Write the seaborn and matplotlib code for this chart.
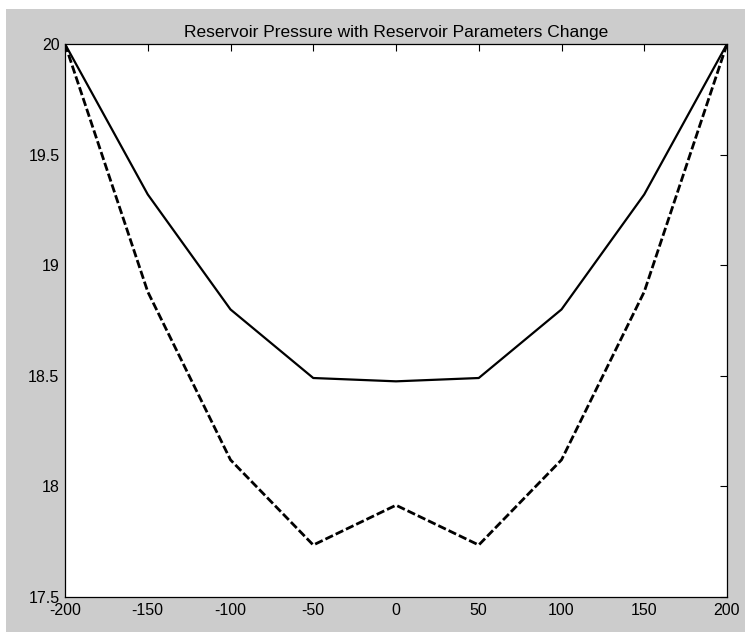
import matplotlib
matplotlib.use("Agg")
import matplotlib.pyplot as plt
from matplotlib.patches import Rectangle
import pandas as pd
import seaborn as sns

# Well offset (m) and reservoir pressure (MPa) for the two parameter cases
offset = [-200, -150, -100, -50, 0, 50, 100, 150, 200]
pressure_base = [20.0, 19.32, 18.80, 18.49, 18.475, 18.49, 18.80, 19.32, 20.0]
pressure_changed = [20.0, 18.88, 18.12, 17.735, 17.915, 17.735, 18.12, 18.88, 20.0]
case_names = ["base", "changed"]

x_ticks = [-200, -150, -100, -50, 0, 50, 100, 150, 200]
y_ticks = [17.5, 18, 18.5, 19, 19.5, 20]
title_text = "Reservoir Pressure with Reservoir Parameters Change"

df = pd.concat([
    pd.DataFrame({"offset": offset, "pressure": pressure_base, "case": case_names[0]}),
    pd.DataFrame({"offset": offset, "pressure": pressure_changed, "case": case_names[1]}),
])

sns.set_theme(style="white")
plt.rcParams["font.family"] = ["Liberation Sans", "DejaVu Sans"]

fig = plt.figure(figsize=(7.45, 6.32), dpi=100, facecolor="white")
# grey window background
fig.patches.append(Rectangle((6 / 745, 0), 1, (632 - 9) / 632,
                             transform=fig.transFigure, facecolor="#cccccc",
                             edgecolor="none", zorder=-10))
ax = fig.add_axes([65 / 745, (632 - 597) / 632, (727 - 65) / 745, (597 - 44) / 632])
ax.set_facecolor("white")

for name, lw, ls in [(case_names[0], 1.6, "-"), (case_names[1], 2.0, (0, (3.0, 1.1)))]:
    sub = df[df["case"] == name]
    sns.lineplot(data=sub, x="offset", y="pressure", ax=ax, color="black",
                 linewidth=lw, linestyle=ls, legend=False, estimator=None, sort=False)

ax.set_xlim(-200, 200)
ax.set_ylim(17.5, 20)
ax.set_xticks(x_ticks)
ax.set_xticklabels([str(v) for v in x_ticks])
ax.set_yticks(y_ticks)
ax.set_yticklabels([f"{v:g}" for v in y_ticks])
ax.set_xlabel("")
ax.set_ylabel("")
ax.tick_params(direction="in", length=5, width=0.8, top=True, right=True,
               labelsize=11.5, colors="black", pad=4)
ax.tick_params(axis="x", pad=4)
for s in ax.spines.values():
    s.set_visible(True)
    s.set_color("black")
    s.set_linewidth(0.9)

ax.set_title(title_text, fontsize=12.5, color="black", pad=5)

fig.savefig("out.png", dpi=100, facecolor=fig.get_facecolor())
